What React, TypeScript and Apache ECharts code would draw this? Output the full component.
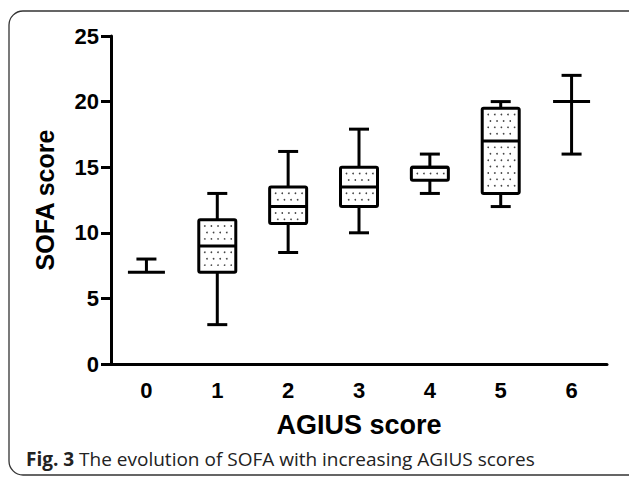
import React, { useEffect, useRef } from "react";
import * as echarts from "echarts";

const categories = ["0", "1", "2", "3", "4", "5", "6"];
// [min, q1, median, q3, max]
const boxMin = [7, 3, 8.5, 10, 13, 12, 16];
const boxQ1 = [7, 7, 10.7, 12, 14, 13, 20];
const boxMedian = [7, 9, 12, 13.5, 15, 17, 20];
const boxQ3 = [7, 11, 13.5, 15, 15, 19.5, 20];
const boxMax = [8, 13, 16.2, 17.9, 16, 20, 22];
const yTicks = { min: 0, max: 25, interval: 5 };

const FONT = "'Liberation Sans', Arial, sans-serif";

export default function App() {
  const ref = useRef<HTMLDivElement>(null);

  useEffect(() => {
    document.body.style.margin = "0";
    if (!ref.current) return;
    const chart = echarts.init(ref.current, undefined, { renderer: "svg" });

    const data = categories.map((_, i) => [
      i,
      boxMin[i],
      boxQ1[i],
      boxMedian[i],
      boxQ3[i],
      boxMax[i],
    ]);

    const renderItem = (params: any, api: any) => {
      const idx = api.value(0);
      const [cx, yMin] = api.coord([idx, api.value(1)]);
      const yQ1 = api.coord([idx, api.value(2)])[1];
      const yMed = api.coord([idx, api.value(3)])[1];
      const yQ3 = api.coord([idx, api.value(4)])[1];
      const yMax = api.coord([idx, api.value(5)])[1];
      const bw = 37;
      const cw = 20;
      const ls = { stroke: "#000", lineWidth: 3, fill: "none" };
      const children: any[] = [];
      children.push({ type: "line", shape: { x1: cx, y1: yQ3, x2: cx, y2: yMax }, style: ls });
      children.push({ type: "line", shape: { x1: cx, y1: yQ1, x2: cx, y2: yMin }, style: ls });
      if (Math.abs(yMax - yQ3) > 0.5)
        children.push({ type: "line", shape: { x1: cx - cw / 2, y1: yMax, x2: cx + cw / 2, y2: yMax }, style: ls });
      if (Math.abs(yMin - yQ1) > 0.5)
        children.push({ type: "line", shape: { x1: cx - cw / 2, y1: yMin, x2: cx + cw / 2, y2: yMin }, style: ls });
      const left = cx - bw / 2;
      const right = cx + bw / 2;
      if (yQ1 - yQ3 > 1) {
        children.push({
          type: "rect",
          shape: { x: left, y: yQ3, width: bw, height: yQ1 - yQ3, r: 1.5 },
          style: { fill: "#fff", stroke: "#000", lineWidth: 3 },
        });
        const fillHalf = (top: number, bot: number) => {
          let r = 0;
          for (let y = top + 6.4; y < bot - 3; y += 6.4, r++) {
            const off = r % 2 ? 2.2 : 0;
            for (let x = left + 6 + off; x < right - 3; x += 6.6) {
              children.push({
                type: "circle",
                shape: { cx: x, cy: y, r: 0.85 },
                style: { fill: "#444" },
              });
            }
          }
        };
        fillHalf(yQ3, yMed);
        fillHalf(yMed, yQ1);
      }
      children.push({ type: "line", shape: { x1: left, y1: yMed, x2: right, y2: yMed }, style: ls });
      return { type: "group", children };
    };

    chart.setOption({
      animation: false,
      backgroundColor: "#fff",
      grid: { left: 111, right: 22, top: 36, bottom: 115, containLabel: false },
      xAxis: {
        type: "category",
        data: categories,
        boundaryGap: true,
        axisLine: { lineStyle: { color: "#000", width: 3 } },
        axisTick: { alignWithLabel: true, length: 9, lineStyle: { color: "#000", width: 3 } },
        axisLabel: { color: "#000", fontSize: 22, fontWeight: "bold", fontFamily: FONT, margin: 15 },
        splitLine: { show: false },
        name: "AGIUS score",
        nameLocation: "middle",
        nameGap: 47,
        nameTextStyle: { color: "#000", fontSize: 27, fontWeight: "bold", fontFamily: FONT },
      },
      yAxis: {
        type: "value",
        min: yTicks.min,
        max: yTicks.max,
        interval: yTicks.interval,
        axisLine: { show: true, lineStyle: { color: "#000", width: 3 } },
        axisTick: { show: true, length: 10, lineStyle: { color: "#000", width: 3 } },
        axisLabel: { color: "#000", fontSize: 22, fontWeight: "bold", fontFamily: FONT, margin: 12 },
        splitLine: { show: false },
        name: "SOFA score",
        nameLocation: "middle",
        nameRotate: 90,
        nameGap: 54,
        nameTextStyle: { color: "#000", fontSize: 25, fontWeight: "bold", fontFamily: FONT },
      },
      graphic: [
        {
          type: "rect",
          shape: { x: 9, y: 11, width: 640, height: 464, r: 14 },
          style: { fill: "none", stroke: "#333", lineWidth: 1.3 },
          silent: true,
        },
        {
          type: "text",
          x: 26,
          y: 459,
          style: {
            text: "{b|Fig. 3} The evolution of SOFA with increasing AGIUS scores",
            fontSize: 19,
            fontFamily: "'Open Sans', sans-serif",
            fill: "#222",
            verticalAlign: "middle",
            rich: { b: { fontWeight: "bold", fontSize: 19, fontFamily: "'Open Sans', sans-serif", fill: "#222" } },
          },
        },
      ],
      series: [
        {
          type: "custom",
          data,
          encode: { x: 0, y: [1, 2, 3, 4, 5] },
          renderItem,
          clip: false,
        },
      ],
    });

    return () => chart.dispose();
  }, []);

  return (
    <div
      ref={ref}
      style={{ position: "absolute", left: 0, top: 0, width: 629, height: 479 }}
    />
  );
}
